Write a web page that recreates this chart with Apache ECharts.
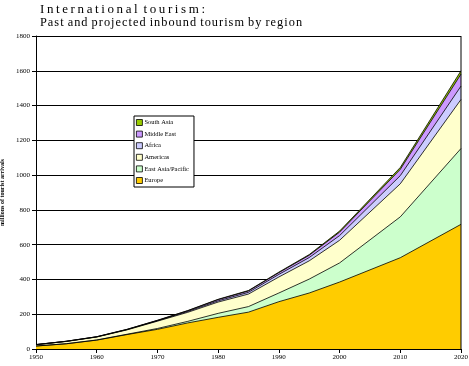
<!DOCTYPE html>
<html>
<head>
<meta charset="utf-8">
<script src="https://cdn.jsdelivr.net/npm/echarts@6/dist/echarts.min.js"></script>
<style>
html,body{margin:0;padding:0;background:#fff;}
#chart{width:469px;height:366px;}
</style>
</head>
<body>
<div id="chart"></div>
<script>
const years = [1950, 1955, 1960, 1965, 1970, 1975, 1980, 1985, 1990, 1995, 2000, 2010, 2020];
const europe          = [17, 30, 51, 83, 113, 150, 182, 212, 272, 322, 385, 525, 717];
const eastAsiaPacific = [0.2, 0.5, 1, 2, 5, 9, 23, 32, 50, 80, 110, 235, 436];
const americas        = [7.5, 13, 17, 25, 42, 52, 65, 72, 92, 105, 130, 190, 282];
const africa          = [0.5, 0.6, 0.8, 1.5, 2.4, 5, 7, 10, 15, 19, 27, 47, 77];
const middleEast      = [0.2, 0.4, 0.6, 1.3, 1.9, 4, 7, 8, 10, 13, 20, 36, 69];
const southAsia       = [0.1, 0.1, 0.2, 0.5, 0.9, 1.2, 2, 2.5, 3, 4, 6, 11, 19];
const yTicks = [0, 200, 400, 600, 800, 1000, 1200, 1400, 1600, 1800];

const seriesDefs = [
  {name: 'Europe', data: europe, color: '#FFCC00'},
  {name: 'East Asia/Pacific', data: eastAsiaPacific, color: '#CCFFCC'},
  {name: 'Americas', data: americas, color: '#FFFFCC'},
  {name: 'Africa', data: africa, color: '#CCCCFF'},
  {name: 'Middle East', data: middleEast, color: '#CC99FF'},
  {name: 'South Asia', data: southAsia, color: '#99CC00'}
];

// cumulative totals (stack) computed from the region arrays
const cumulative = [];
let running = years.map(() => 0);
seriesDefs.forEach(s => {
  running = running.map((v, i) => v + s.data[i]);
  cumulative.push(running.slice());
});

const spaced = (t, sp) => t.split(' ').map(w => w.split('').join(sp)).join(' ' + sp);
const serif = '"Liberation Serif", "DejaVu Serif", serif';
const chart = echarts.init(document.getElementById('chart'), null, {renderer: 'canvas'});

// draw from the top layer downward so each lower band paints over the one above
const series = seriesDefs.map((s, k) => ({
  name: s.name,
  type: 'line',
  symbol: 'none',
  data: years.map((y, i) => [y, cumulative[k][i]]),
  lineStyle: {color: '#000', width: 0.8},
  itemStyle: {color: s.color, borderColor: '#000'},
  areaStyle: {color: s.color, opacity: 1, origin: 'start'}
})).reverse();

chart.setOption({
  animation: false,
  backgroundColor: '#fff',
  title: {
    text: spaced('International tourism:', '\u2009'),
    subtext: spaced('Past and projected inbound tourism by region', '\u200A'),
    left: 35, top: -2,
    itemGap: 1,
    textStyle: {fontFamily: serif, fontSize: 13, fontWeight: 'normal', color: '#000'},
    subtextStyle: {fontFamily: serif, fontSize: 12.3, color: '#000'}
  },
  legend: {
    orient: 'vertical',
    left: 134, top: 116,
    data: seriesDefs.map(s => s.name).reverse(),
    itemWidth: 6, itemHeight: 6, itemGap: 4.6,
    icon: 'rect',
    backgroundColor: '#fff',
    borderColor: '#000', borderWidth: 1,
    padding: [3, 5, 3, 2],
    textStyle: {fontFamily: serif, fontSize: 6.5, color: '#000', padding: [0, 0, 0, -3]},
    itemStyle: {borderColor: '#000', borderWidth: 0.8}
  },
  grid: {left: 36, right: 8, top: 36, bottom: 17, containLabel: false, outerBoundsMode: 'none'},
  xAxis: {
    type: 'value', min: 1950, max: 2020, interval: 10,
    axisLine: {show: true, onZero: false, lineStyle: {color: '#000', width: 1}},
    axisTick: {show: true, length: 4, lineStyle: {color: '#000'}},
    axisLabel: {fontFamily: serif, fontSize: 7, color: '#000', margin: 5, formatter: v => String(v)},
    splitLine: {show: false}
  },
  yAxis: {
    type: 'value', min: 0, max: 1800, interval: 200,
    name: 'millions of tourist arrivals',
    nameLocation: 'middle', nameGap: 25, nameRotate: 90,
    nameTextStyle: {fontFamily: serif, fontSize: 6, color: '#000', fontWeight: 'bold'},
    axisLine: {show: true, lineStyle: {color: '#000', width: 1}},
    axisTick: {show: true, length: 4, lineStyle: {color: '#000'}},
    axisLabel: {fontFamily: serif, fontSize: 7, color: '#000', margin: 6,
      formatter: v => yTicks.includes(v) ? String(v) : ''},
    splitLine: {show: true, lineStyle: {color: '#000', width: 1}}
  },
  series: series,
  graphic: [{
    type: 'line', shape: {x1: 461, y1: 36, x2: 461, y2: 349},
    style: {stroke: '#000', lineWidth: 1}, z: 100
  }]
});
</script>
</body>
</html>
